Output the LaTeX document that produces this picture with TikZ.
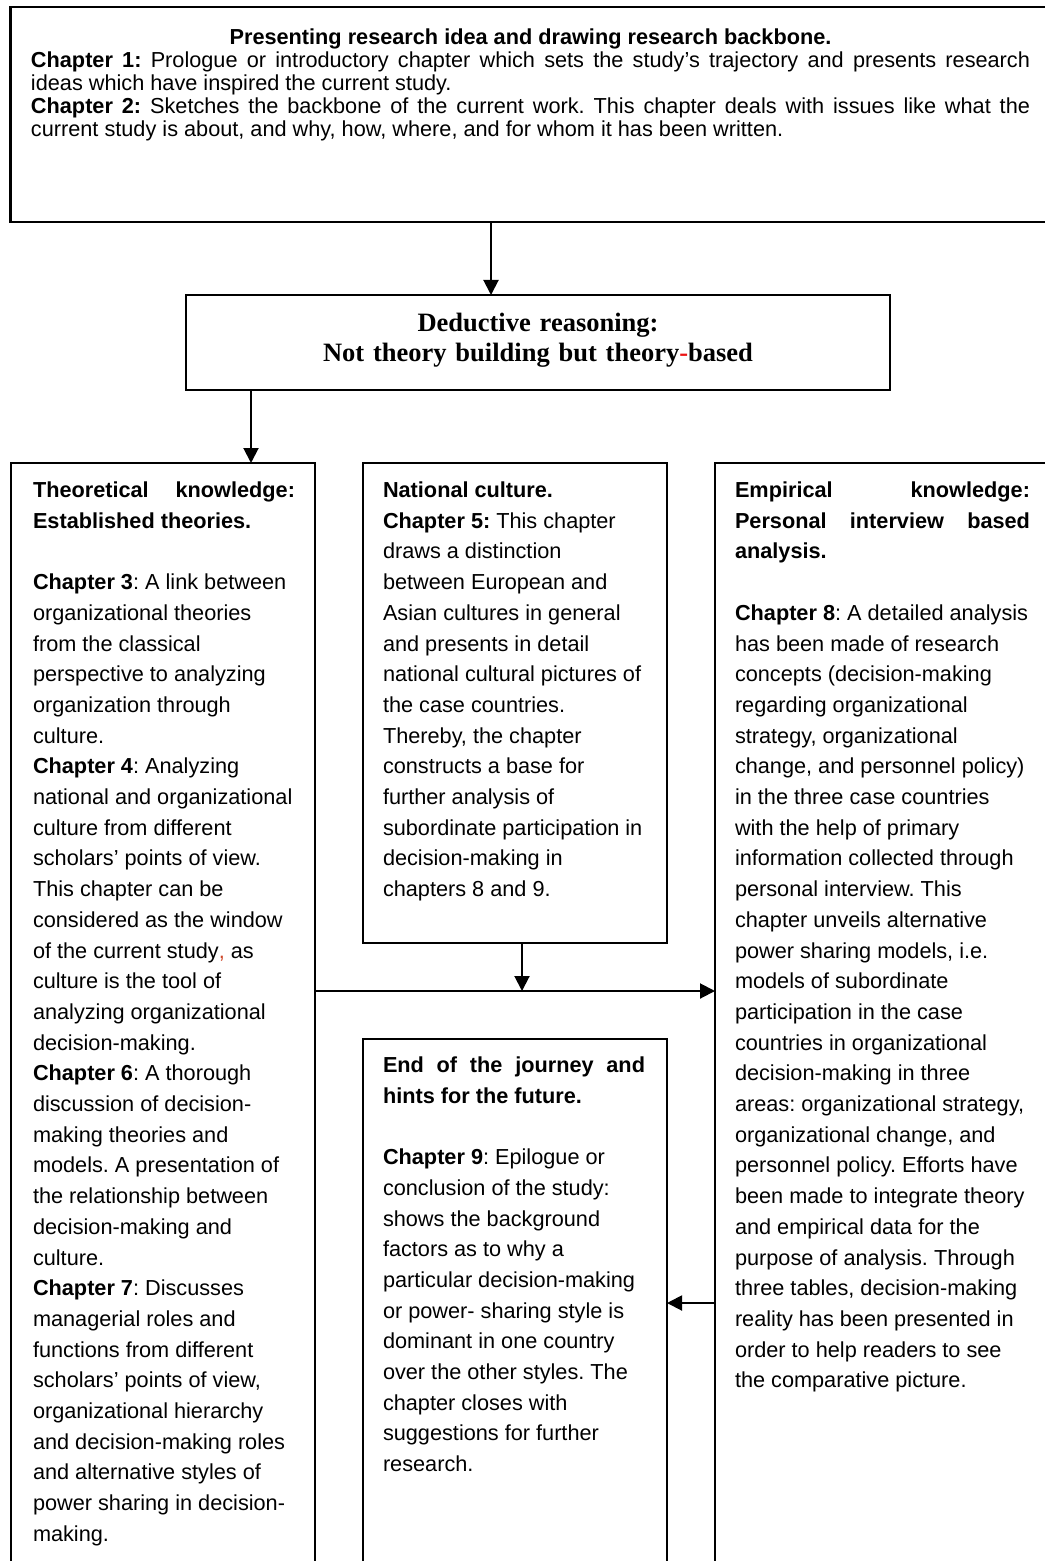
\documentclass[tikz,border=0pt]{standalone}
\usepackage{fontspec}
\setmainfont{Liberation Sans}
\newfontfamily\titleserif{Liberation Serif}
\usetikzlibrary{arrows.meta}
\definecolor{hyphenred}{RGB}{235,20,20}
\definecolor{commared}{RGB}{205,70,40}
\frenchspacing

% body type of the chapter boxes
\newcommand\bodytype{\fontsize{10.85pt}{15.35pt}\selectfont}
% a paragraph block, top line on the node's baseline
\newcommand\block[2]{\parbox[t]{#1}{\bodytype\raggedright #2}}
% a line stretched to a given width
\newcommand\fullline[2]{\makebox[#1][s]{#2}}

\begin{document}
\begin{tikzpicture}[x=0.5pt,y=-0.5pt,
  frame/.style={draw=black,line width=1.1pt,inner sep=0pt,outer sep=0pt,rectangle},
  link/.style={line width=1pt,-{Triangle[length=7.5pt,width=7.5pt]}},
  prose/.style={anchor=base west,inner sep=0pt,outer sep=0pt},
]
\useasboundingbox (0,0) rectangle (1044,1561);

% ---- boxes (the tall ones run past the lower edge of the page)
\node[frame,line width=1.4pt,minimum width=519.75pt,minimum height=107.5pt] (top) at (530.25,114.5) {};
\node[frame,minimum width=352pt,minimum height=47.5pt] (deduct) at (538,342.5) {};
\node[frame,minimum width=152pt,minimum height=560pt] (theory) at (163,1023) {};
\node[frame,minimum width=152pt,minimum height=240pt] (culture) at (515,703) {};
\node[frame,minimum width=167.5pt,minimum height=560pt] (empirical) at (882.5,1023) {};
\node[frame,minimum width=152pt,minimum height=272pt] (future) at (515,1311) {};

% ---- texts
\node[prose] (topText) at (31,45) {\parbox[t]{499.5pt}{%
\fontsize{10.85pt}{11.5pt}\selectfont
\makebox[499.5pt][c]{\textbf{Presenting research idea and drawing research backbone.}}\\
\fullline{499.5pt}{\textbf{Chapter 1:} Prologue or introductory chapter which sets the study’s trajectory and presents research}\\
ideas which have inspired the current study.\\
\fullline{499.5pt}{\textbf{Chapter 2:} Sketches the backbone of the current work. This chapter deals with issues like what the}\\
current study is about, and why, how, where, and for whom it has been written.}};

\node[anchor=base,inner sep=0pt,align=center,text width=352pt,
  font=\titleserif\bfseries\fontsize{13.25pt}{15pt}\selectfont] (deductText) at (538,332) {%
Deductive reasoning:\\
Not theory building but theory{\color{hyphenred}-}based};

\node[prose] (theoryText) at (33,497.5) {\block{136pt}{%
\makebox[131pt][l]{\textbf{Theoretical\hfill knowledge:}}\\
\textbf{Established theories.}\\[15.35pt]
\textbf{Chapter 3}: A link between\\
organizational theories\\
from the classical\\
perspective to analyzing\\
organization through\\
culture.\\
\textbf{Chapter 4}: Analyzing\\
national and organizational\\
culture from different\\
scholars’ points of view.\\
This chapter can be\\
considered as the window\\
of the current study{\color{commared},} as\\
culture is the tool of\\
analyzing organizational\\
decision-making.\\
\textbf{Chapter 6}: A thorough\\
discussion of decision-\\
making theories and\\
models. A presentation of\\
the relationship between\\
decision-making and\\
culture.\\
\textbf{Chapter 7}: Discusses\\
managerial roles and\\
functions from different\\
scholars’ points of view,\\
organizational hierarchy\\
and decision-making roles\\
and alternative styles of\\
power sharing in decision-\\
making.}};

\node[prose] (cultureText) at (383,497.5) {\block{136pt}{%
\textbf{National culture.}\\
\textbf{Chapter 5:} This chapter\\
draws a distinction\\
between European and\\
Asian cultures in general\\
and presents in detail\\
national cultural pictures of\\
the case countries.\\
Thereby, the chapter\\
constructs a base for\\
further analysis of\\
subordinate participation in\\
decision-making in\\
chapters 8 and 9.}};

\node[prose] (empiricalText) at (735,497.5) {\block{152pt}{%
\makebox[147.5pt][l]{\textbf{Empirical\hfill knowledge:}}\\
\makebox[147.5pt][l]{\textbf{Personal\hfill interview\hfill based}}\\
\textbf{analysis.}\\[15.35pt]
\textbf{Chapter 8}: A detailed analysis\\
has been made of research\\
concepts (decision-making\\
regarding organizational\\
strategy, organizational\\
change, and personnel policy)\\
in the three case countries\\
with the help of primary\\
information collected through\\
personal interview. This\\
chapter unveils alternative\\
power sharing models, i.e.\\
models of subordinate\\
participation in the case\\
countries in organizational\\
decision-making in three\\
areas: organizational strategy,\\
organizational change, and\\
personnel policy. Efforts have\\
been made to integrate theory\\
and empirical data for the\\
purpose of analysis. Through\\
three tables, decision-making\\
reality has been presented in\\
order to help readers to see\\
the comparative picture.}};

\node[prose] (futureText) at (383,1072.5) {\block{136pt}{%
\makebox[131pt][l]{\textbf{End\hfill of\hfill the\hfill journey\hfill and}}\\
\textbf{hints for the future.}\\[15.35pt]
\textbf{Chapter 9}: Epilogue or\\
conclusion of the study:\\
shows the background\\
factors as to why a\\
particular decision-making\\
or power- sharing style is\\
dominant in one country\\
over the other styles. The\\
chapter closes with\\
suggestions for further\\
research.}};

% ---- connectors
\coordinate (colA) at (491,0);
\coordinate (colB) at (251,0);
\coordinate (colC) at (522,0);
\coordinate (rowD) at (0,991);
\coordinate (rowE) at (0,1303);

\draw[link] (top.south -| colA) -- (deduct.north -| colA);
\draw[link] (deduct.south -| colB) -- (theory.north -| colB);
\draw[link] (theory.east |- rowD) -- (empirical.west |- rowD);
\draw[link] (culture.south -| colC) -- (rowD -| colC);
\draw[link] (empirical.west |- rowE) -- (future.east |- rowE);
\end{tikzpicture}
\end{document}
